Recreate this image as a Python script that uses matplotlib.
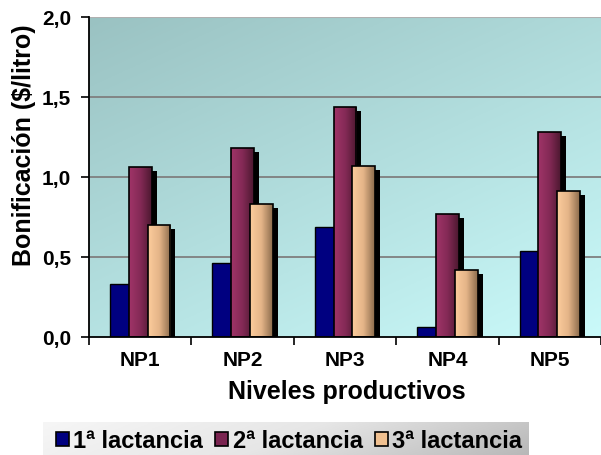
import numpy as np
import matplotlib
matplotlib.use("Agg")
import matplotlib.pyplot as plt
from matplotlib.patches import Rectangle
from matplotlib.colors import LinearSegmentedColormap
import matplotlib.transforms as mtransforms

plt.rcParams['font.family'] = ['Liberation Sans', 'DejaVu Sans']

categories = ["NP1", "NP2", "NP3", "NP4", "NP5"]
series_names = ["1ª lactancia", "2ª lactancia", "3ª lactancia"]
lact1 = [0.33, 0.46, 0.69, 0.06, 0.54]
lact2 = [1.06, 1.18, 1.44, 0.77, 1.28]
lact3 = [0.70, 0.83, 1.07, 0.42, 0.91]
y_ticks = [0.0, 0.5, 1.0, 1.5, 2.0]
y_tick_labels = ["0,0", "0,5", "1,0", "1,5", "2,0"]

W, H = 601, 455
fig = plt.figure(figsize=(W / 100, H / 100), dpi=100)

# axes geometry in pixels
left, right, top, bottom = 89, 601, 17, 337
cat_w = 103.5
ax = fig.add_axes([left / W, 1 - bottom / H, (right - left) / W, (bottom - top) / H])

# background gradient: grey-teal upper left to pale cyan lower right
nx, ny = 200, 200
xx, yy = np.meshgrid(np.linspace(0, 1, nx), np.linspace(0, 1, ny))
t = np.clip((xx * 0.55 + yy * 0.75) / 1.3, 0, 1)
c0 = np.array([0x9a, 0xc2, 0xc2]) / 255
c1 = np.array([0xca, 0xfa, 0xfa]) / 255
bg = c0[None, None, :] * (1 - t[..., None]) + c1[None, None, :] * t[..., None]
ax.imshow(bg, extent=[0, 1, 0, 1], transform=ax.transAxes, aspect='auto',
          zorder=0, origin='upper')

for yv in [0.5, 1.0, 1.5]:
    ax.axhline(yv, color='#7f7f7f', lw=1.3, zorder=1)
ax.axhline(2.0, color='#b0b0b0', lw=1.5, zorder=1)

cmap2 = LinearSegmentedColormap.from_list('m', ['#a03468', '#842a56', '#4c1830'])
cmap3 = LinearSegmentedColormap.from_list('p', ['#fccc9c', '#e4b488', '#8c6c4c'])
grad = np.linspace(0, 1, 64)[None, :]

bar_w = 23 / cat_w
step = 19 / cat_w
shadow_tr = ax.transData + mtransforms.ScaledTranslation(5 / 100, -4 / 100, fig.dpi_scale_trans)

series = [lact1, lact2, lact3]
z = 2
for i in range(len(categories)):
    for s, vals in enumerate(series):
        x0 = i + (s - 1) * step - bar_w / 2
        v = vals[i]
        sh = Rectangle((x0, 0), bar_w, v, facecolor='black', edgecolor='none',
                       transform=shadow_tr, zorder=z)
        ax.add_patch(sh)
        z += 0.01
        if s == 0:
            r = Rectangle((x0, 0), bar_w, v, facecolor='#000080', edgecolor='black',
                          lw=1.0, zorder=z)
            ax.add_patch(r)
        else:
            cm = cmap2 if s == 1 else cmap3
            r = Rectangle((x0, 0), bar_w, v, facecolor='none', edgecolor='black',
                          lw=1.2, zorder=z + 0.005)
            im = ax.imshow(grad, cmap=cm, extent=[x0, x0 + bar_w, 0, v],
                           aspect='auto', zorder=z, interpolation='bilinear')
            clip = Rectangle((x0, 0), bar_w, v, transform=ax.transData,
                             facecolor='none', edgecolor='none')
            ax.add_patch(clip)
            im.set_clip_path(clip)
            ax.add_patch(r)
        z += 0.01

ax.set_xlim(-0.5, -0.5 + (right - left) / cat_w)
ax.set_ylim(0, 2.0)

for sp in ['top', 'right']:
    ax.spines[sp].set_visible(False)
for sp in ['left', 'bottom']:
    ax.spines[sp].set_color('black')
    ax.spines[sp].set_linewidth(1.3)
    ax.spines[sp].set_zorder(50)

ax.set_yticks(y_ticks)
ax.set_yticklabels(y_tick_labels, fontsize=15, fontweight='bold')
ax.tick_params(axis='y', direction='out', length=6, width=1.2, pad=7)

ax.set_xticks(np.arange(-0.5, 5, 1.0))
ax.set_xticklabels([])
ax.set_xticks(np.arange(len(categories)), minor=True)
ax.set_xticklabels(categories, minor=True, fontsize=15, fontweight='bold')
ax.tick_params(axis='x', which='major', direction='out', length=6, width=1.2)
ax.tick_params(axis='x', which='minor', length=0, pad=10)

ax.set_ylabel("Bonificación ($/litro)", fontsize=18, fontweight='bold')
ax.yaxis.set_label_coords(-(left - 24) / (right - left), (bottom - 145) / (bottom - top))
ax.set_xlabel("Niveles productivos", fontsize=18, fontweight='bold')
ax.xaxis.set_label_coords(0.5 * (227 + 466 - 2 * left) / (right - left), -(392 - bottom) / (bottom - top))
ax.xaxis.label.set_va('center')
ax.yaxis.label.set_va('center')

# legend with light-to-grey gradient backdrop
lx0, lx1, ly0, ly1 = 43, 529, 422, 455
lax = fig.add_axes([lx0 / W, 1 - ly1 / H, (lx1 - lx0) / W, (ly1 - ly0) / H])
lgx, lgy = np.meshgrid(np.linspace(0, 1, 200), np.linspace(0, 1, 40))
lg = np.clip(lgx * 0.85 + lgy * 0.15, 0, 1)
lcm = LinearSegmentedColormap.from_list('g', ['#f6f6f6', '#e6e6e6', '#b8b8b8'])
lax.imshow(lg, cmap=lcm, aspect='auto', extent=[0, 1, 0, 1], origin='upper')
lax.set_axis_off()

handles = [
    Rectangle((0, 0), 1, 1, facecolor='#000080', edgecolor='black', lw=1.2),
    Rectangle((0, 0), 1, 1, facecolor='#7a2450', edgecolor='black', lw=1.2),
    Rectangle((0, 0), 1, 1, facecolor='#f0c090', edgecolor='black', lw=1.2),
]
fig.legend(handles, series_names, loc='center', bbox_to_anchor=(289 / W, 1 - 441 / H),
           ncol=3, frameon=False, prop={'weight': 'bold', 'size': 17},
           handlelength=0.55, handleheight=0.55, handletextpad=0.2, columnspacing=0.5,
           borderpad=0, borderaxespad=0)

fig.savefig("out.png", dpi=100)
